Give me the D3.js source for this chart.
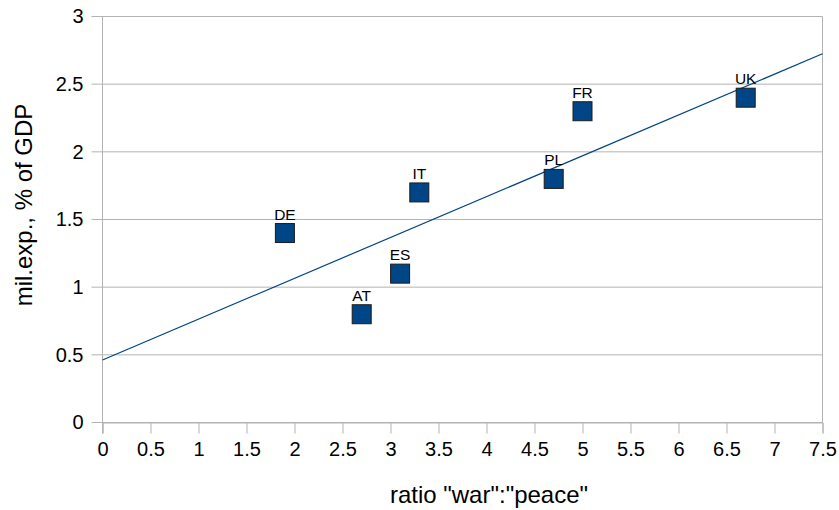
<!DOCTYPE html>
<html>
<head>
<meta charset="utf-8">
<script src="https://cdn.jsdelivr.net/npm/d3@7"></script>
<style>
  body { margin: 0; background: #fff; }
  text { font-family: "Liberation Sans", Arial, sans-serif; fill: #000; }
</style>
</head>
<body>
<div id="container"></div>
<script>
/* DATA */
const countries = ["DE", "AT", "ES", "IT", "PL", "FR", "UK"];
const ratio = [1.9, 2.7, 3.1, 3.3, 4.7, 5.0, 6.7];
const milExp = [1.4, 0.8, 1.1, 1.7, 1.8, 2.3, 2.4];
const xTicks = [0, 0.5, 1, 1.5, 2, 2.5, 3, 3.5, 4, 4.5, 5, 5.5, 6, 6.5, 7, 7.5];
const yTicks = [0, 0.5, 1, 1.5, 2, 2.5, 3];

/* CONSTANTS */
const width = 839, height = 510,
  margin = { top: 16.5, bottom: 87.5, left: 102.5, right: 16.5 };
const innerW = width - margin.left - margin.right,
  innerH = height - margin.top - margin.bottom;

const svg = d3.select("#container")
  .append("svg")
  .attr("width", width)
  .attr("height", height);

const x = d3.scaleLinear().domain([0, 7.5]).range([margin.left, margin.left + innerW]);
const y = d3.scaleLinear().domain([0, 3]).range([margin.top + innerH, margin.top]);

// GRID LINES
svg.selectAll("line.grid")
  .data(yTicks)
  .join("line")
  .attr("class", "grid")
  .attr("x1", margin.left - 11)
  .attr("x2", margin.left + innerW)
  .attr("y1", d => y(d))
  .attr("y2", d => y(d))
  .attr("stroke", "#b3b3b3");

// FRAME
svg.append("line")
  .attr("x1", margin.left).attr("x2", margin.left)
  .attr("y1", margin.top).attr("y2", margin.top + innerH + 11)
  .attr("stroke", "#b3b3b3");
svg.append("line")
  .attr("x1", margin.left + innerW).attr("x2", margin.left + innerW)
  .attr("y1", margin.top).attr("y2", margin.top + innerH)
  .attr("stroke", "#b3b3b3");

// X AXIS
const xAxis = svg.append("g")
  .attr("transform", `translate(0,${margin.top + innerH})`)
  .call(d3.axisBottom(x).tickValues(xTicks).tickSize(11).tickPadding(8).tickFormat(d3.format("")));
xAxis.select(".domain").attr("stroke", "#b3b3b3");
xAxis.selectAll(".tick line").attr("stroke", "#b3b3b3");
xAxis.selectAll(".tick text").attr("font-size", 20).attr("fill", "#000")
  .attr("font-family", "Liberation Sans, Arial, sans-serif");

// Y AXIS
const yAxis = svg.append("g")
  .attr("transform", `translate(${margin.left},0)`)
  .call(d3.axisLeft(y).tickValues(yTicks).tickSize(0).tickPadding(19).tickFormat(d3.format("")));
yAxis.select(".domain").remove();
yAxis.selectAll(".tick text").attr("font-size", 20).attr("fill", "#000")
  .attr("font-family", "Liberation Sans, Arial, sans-serif");

// TREND LINE (least squares)
const mx = d3.mean(ratio), my = d3.mean(milExp);
const slope = d3.sum(ratio, (v, i) => (v - mx) * (milExp[i] - my)) / d3.sum(ratio, v => (v - mx) ** 2);
const intercept = my - slope * mx;
svg.append("line")
  .attr("x1", x(0)).attr("y1", y(intercept))
  .attr("x2", x(7.5)).attr("y2", y(intercept + slope * 7.5))
  .attr("stroke", "#004586")
  .attr("stroke-width", 1.2);

// POINTS
const pts = countries.map((c, i) => ({ c, x: ratio[i], y: milExp[i] }));
const s = 19;
svg.selectAll("rect.pt")
  .data(pts)
  .join("rect")
  .attr("class", "pt")
  .attr("x", d => x(d.x) - s / 2)
  .attr("y", d => y(d.y) - s / 2)
  .attr("width", s)
  .attr("height", s)
  .attr("fill", "#004586")
  .attr("stroke", "#1c1c1c")
  .attr("stroke-width", 1);

svg.selectAll("text.lbl")
  .data(pts)
  .join("text")
  .attr("class", "lbl")
  .attr("x", d => x(d.x))
  .attr("y", d => y(d.y) - s / 2 - 4)
  .attr("text-anchor", "middle")
  .attr("font-size", 15.5)
  .text(d => d.c);

// AXIS TITLES
svg.append("text")
  .attr("x", 489)
  .attr("y", 503)
  .attr("text-anchor", "middle")
  .attr("font-size", 24)
  .text('ratio "war":"peace"');

svg.append("text")
  .attr("transform", "translate(32,205) rotate(-90)")
  .attr("text-anchor", "middle")
  .attr("font-size", 24)
  .text("mil.exp., % of GDP");
</script>
</body>
</html>
